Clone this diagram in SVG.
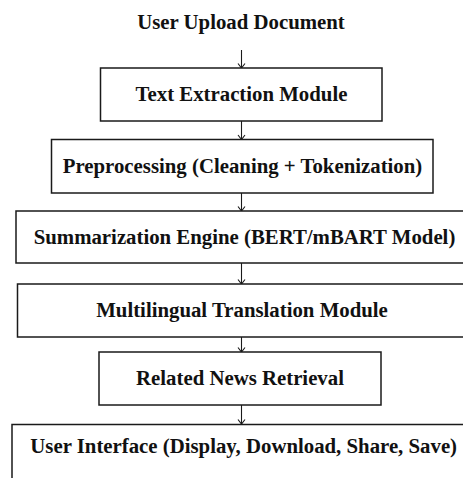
<svg xmlns="http://www.w3.org/2000/svg" width="463" height="478" viewBox="0 0 463 478">
  <style>
    .box { fill: #ffffff; stroke: #1a1a1a; stroke-width: 1.5; }
    .label { font-family: "Liberation Serif", "Times New Roman", serif; font-weight: bold; font-size: 20.8px; fill: #111111; text-anchor: middle; }
    .flow { fill: none; stroke: #1a1a1a; stroke-width: 1.1; marker-end: url(#head); }
  </style>
  <defs>
    <!-- small open arrowhead; tip sits on the line end -->
    <marker id="head" viewBox="0 0 10 10" refX="9.5" refY="5" markerWidth="10" markerHeight="10" markerUnits="userSpaceOnUse" orient="auto">
      <path d="M5,1.5 L9.5,5 L5,8.5" fill="none" stroke="#1a1a1a" stroke-width="1.1"/>
    </marker>
  </defs>
  <rect width="463" height="478" fill="#ffffff"/>

  <g id="connectors">
    <line class="flow" x1="241.5" y1="50" x2="241.5" y2="68"/>
    <line class="flow" x1="241.5" y1="121" x2="241.5" y2="139.5"/>
    <line class="flow" x1="241.5" y1="193" x2="241.5" y2="211"/>
    <line class="flow" x1="241.5" y1="263" x2="241.5" y2="284"/>
    <line class="flow" x1="241.5" y1="337" x2="241.5" y2="352"/>
    <line class="flow" x1="241.5" y1="405" x2="241.5" y2="424"/>
  </g>

  <g id="upload">
    <text class="label" x="241" y="29">User Upload Document</text>
  </g>

  <g id="extraction">
    <rect class="box" x="100.5" y="68" width="281.5" height="53"/>
    <text class="label" x="241.5" y="100.5">Text Extraction Module</text>
  </g>

  <g id="preprocessing">
    <rect class="box" x="51.5" y="139.5" width="381.5" height="53.5"/>
    <text class="label" x="242.5" y="172.5">Preprocessing (Cleaning + Tokenization)</text>
  </g>

  <g id="summarization">
    <rect class="box" x="16" y="211" width="458" height="52"/>
    <text class="label" x="244.5" y="243.5">Summarization Engine (BERT/mBART Model)</text>
  </g>

  <g id="translation">
    <rect class="box" x="17.5" y="284" width="450" height="53"/>
    <text class="label" x="242" y="316.5">Multilingual Translation Module</text>
  </g>

  <g id="retrieval">
    <rect class="box" x="99" y="352" width="282" height="53"/>
    <text class="label" x="240" y="384.5">Related News Retrieval</text>
  </g>

  <g id="interface">
    <rect class="box" x="12" y="424.5" width="463" height="70"/>
    <text class="label" x="243.7" y="453">User Interface (Display, Download, Share, Save)</text>
  </g>
</svg>
